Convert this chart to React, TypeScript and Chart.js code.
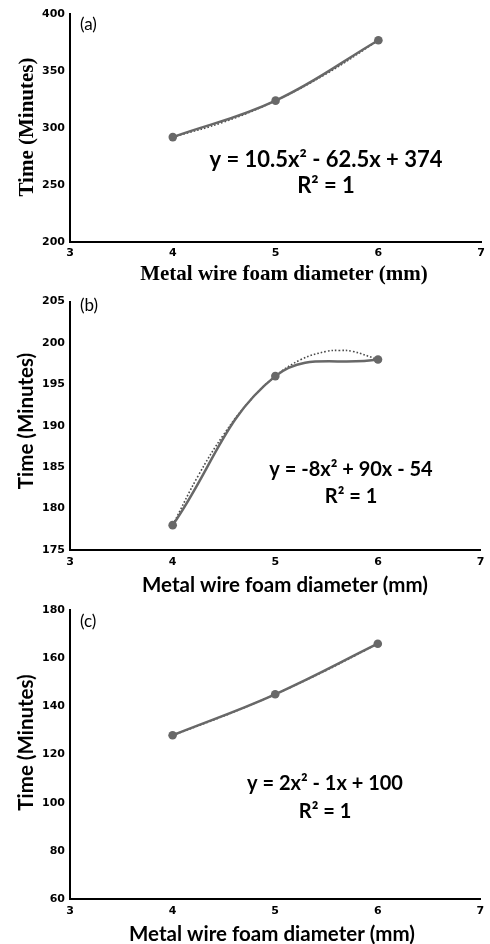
import React, { useEffect, useRef } from "react";
import { Chart, registerables } from "chart.js";

Chart.register(...registerables);

// ---------- data ----------
const diameters = [4, 5, 6];
const timeA = [292, 324, 377];
const timeB = [178, 196, 198];
const timeC = [128, 145, 166];

// polynomial trendlines (dotted)
const trendXA = [4, 4.5, 5, 5.5, 6];
const trendA = [292, 305.4, 324, 347.9, 377];
const trendXB = [4, 4.25, 4.5, 4.75, 5, 5.25, 5.5, 5.625, 5.75, 6];
const trendB = [178, 184, 189, 193, 196, 198, 199, 199.1, 199, 198];
const trendXC = [4, 4.5, 5, 5.5, 6];
const trendC = [128, 136, 145, 155, 166];

const xTicks = [3, 4, 5, 6, 7];
const yTicksA = [200, 250, 300, 350, 400];
const yTicksB = [175, 180, 185, 190, 195, 200, 205];
const yTicksC = [60, 80, 100, 120, 140, 160, 180];

const eqA = ["y = 10.5x² - 62.5x + 374", "R² = 1"];
const eqB = ["y = -8x² + 90x - 54", "R² = 1"];
const eqC = ["y = 2x² - 1x + 100", "R² = 1"];

const xTitleText = "Metal wire foam diameter (mm)";
const yTitleText = "Time (Minutes)";

// ---------- styling ----------
const SANS = "Lato, 'Open Sans', sans-serif";
const TICK_FAMILY = "'DejaVu Sans', Lato, sans-serif";
const SERIF = "'Liberation Serif', 'DejaVu Serif', serif";
const LINE = "#686868";
const DOT = "#4a4a4a";

Chart.defaults.color = "#000";

const tickFont = { family: TICK_FAMILY, size: 11, weight: "bold" as const };

const overlayPlugin = {
  id: "overlay",
  afterDraw(chart: any, _args: any, o: any) {
    const ctx = chart.ctx as CanvasRenderingContext2D;
    ctx.save();
    ctx.fillStyle = "#000";
    // panel letter
    ctx.font = o.panelFont;
    ctx.textAlign = "left";
    ctx.textBaseline = "middle";
    ctx.fillText(o.panel, o.panelX, o.panelY);
    // equation
    ctx.font = o.eqFont;
    ctx.textAlign = "center";
    ctx.textBaseline = "alphabetic";
    (o.eqLines as string[]).forEach((l, i) => ctx.fillText(l, o.eqX, o.eqY + i * o.eqGap));
    // x title
    ctx.font = o.titleFont;
    ctx.fillText(o.xTitle, o.xTitleX, o.xTitleY);
    // y title
    ctx.translate(o.yTitleX, o.yTitleY);
    ctx.rotate(-Math.PI / 2);
    ctx.fillText(o.yTitle, 0, 0);
    ctx.restore();
  },
};

type PanelSpec = {
  height: number;
  padTop: number;
  padRight: number;
  xAxisH: number;
  xTickPad: number;
  yMin: number;
  yMax: number;
  yTicks: number[];
  values: number[];
  trendX: number[];
  trendY: number[];
  overlay: any;
};

function makeConfig(p: PanelSpec): any {
  return {
    type: "line",
    data: {
      datasets: [
        {
          data: diameters.map((d, i) => ({ x: d, y: p.values[i] })),
          borderColor: LINE,
          backgroundColor: LINE,
          borderWidth: 2.5,
          pointRadius: 4.3,
          pointBackgroundColor: LINE,
          pointBorderColor: LINE,
          pointBorderWidth: 0,
          tension: 0.4,
          fill: false,
        },
        {
          data: p.trendX.map((d, i) => ({ x: d, y: p.trendY[i] })),
          borderColor: DOT,
          borderWidth: 1.6,
          borderDash: [1.6, 2],
          pointRadius: 0,
          tension: 0.4,
          fill: false,
        },
      ],
    },
    options: {
      responsive: false,
      animation: false,
      devicePixelRatio: 1,
      layout: { autoPadding: false, padding: { top: p.padTop, right: p.padRight, left: 0, bottom: 0 } },
      plugins: {
        legend: { display: false },
        tooltip: { enabled: false },
        overlay: p.overlay,
      },
      scales: {
        x: {
          type: "linear",
          min: 3,
          max: 7,
          grid: { display: false, drawTicks: false },
          border: { display: true, color: "#000", width: 2 },
          ticks: {
            color: "#000",
            padding: p.xTickPad,
            font: tickFont,
            maxRotation: 0,
            autoSkip: false,
          },
          afterBuildTicks: (s: any) => {
            s.ticks = xTicks.map((v) => ({ value: v }));
          },
          afterFit: (s: any) => {
            s.height = p.xAxisH;
          },
        },
        y: {
          type: "linear",
          min: p.yMin,
          max: p.yMax,
          grid: { display: false, drawTicks: false },
          border: { display: true, color: "#000", width: 2 },
          ticks: {
            color: "#000",
            padding: 5,
            font: tickFont,
            autoSkip: false,
          },
          afterBuildTicks: (s: any) => {
            s.ticks = p.yTicks.map((v) => ({ value: v }));
          },
          afterFit: (s: any) => {
            s.width = 70;
          },
        },
      },
    },
    plugins: [overlayPlugin],
  };
}

const panels: { top: number; spec: PanelSpec }[] = [
  {
    top: 0,
    spec: {
      height: 290,
      padTop: 14,
      padRight: 6,
      xAxisH: 48,
      xTickPad: 5,
      yMin: 200,
      yMax: 400,
      yTicks: yTicksA,
      values: timeA,
      trendX: trendXA,
      trendY: trendA,
      overlay: {
        panel: "(a)",
        panelX: 80,
        panelY: 25,
        panelFont: `17px ${SANS}`,
        eqLines: eqA,
        eqX: 326,
        eqY: 166.7,
        eqGap: 26.6,
        eqFont: `bold 22px ${SANS}`,
        titleFont: `bold 21px ${SERIF}`,
        xTitle: xTitleText,
        xTitleX: 284,
        xTitleY: 279.5,
        yTitle: yTitleText,
        yTitleX: 32.5,
        yTitleY: 127,
      },
    },
  },
  {
    top: 290,
    spec: {
      height: 320,
      padTop: 7.3,
      padRight: 0,
      xAxisH: 60,
      xTickPad: 5.5,
      yMin: 175,
      yMax: 205,
      yTicks: yTicksB,
      values: timeB,
      trendX: trendXB,
      trendY: trendB,
      overlay: {
        panel: "(b)",
        panelX: 80,
        panelY: 15.5,
        panelFont: `17px ${SANS}`,
        eqLines: eqB,
        eqX: 351,
        eqY: 185.7,
        eqGap: 27.6,
        eqFont: `bold 20px ${SANS}`,
        titleFont: `bold 20.5px ${SANS}`,
        xTitle: xTitleText,
        xTitleX: 285,
        xTitleY: 301.7,
        yTitle: yTitleText,
        yTitleX: 32.5,
        yTitleY: 131,
      },
    },
  },
  {
    top: 598,
    spec: {
      height: 346,
      padTop: 12,
      padRight: 0,
      xAxisH: 45,
      xTickPad: 5.8,
      yMin: 60,
      yMax: 180,
      yTicks: yTicksC,
      values: timeC,
      trendX: trendXC,
      trendY: trendC,
      overlay: {
        panel: "(c)",
        panelX: 80,
        panelY: 23.5,
        panelFont: `17px ${SANS}`,
        eqLines: eqC,
        eqX: 325,
        eqY: 192,
        eqGap: 28.3,
        eqFont: `bold 20px ${SANS}`,
        titleFont: `bold 20.5px ${SANS}`,
        xTitle: xTitleText,
        xTitleX: 272,
        xTitleY: 342.5,
        yTitle: yTitleText,
        yTitleX: 32.5,
        yTitleY: 144.5,
      },
    },
  },
];

function Panel({ top, spec }: { top: number; spec: PanelSpec }) {
  const ref = useRef<HTMLCanvasElement>(null);
  useEffect(() => {
    const chart = new Chart(ref.current as HTMLCanvasElement, makeConfig(spec));
    return () => chart.destroy();
  }, []);
  return (
    <canvas
      ref={ref}
      width={490}
      height={spec.height}
      style={{ position: "absolute", left: 0, top, width: 490, height: spec.height }}
    />
  );
}

export default function App() {
  return (
    <div style={{ position: "absolute", left: 0, top: 0, width: 490, height: 944, background: "#fff" }}>
      {panels.map((p, i) => (
        <Panel key={i} top={p.top} spec={p.spec} />
      ))}
    </div>
  );
}
